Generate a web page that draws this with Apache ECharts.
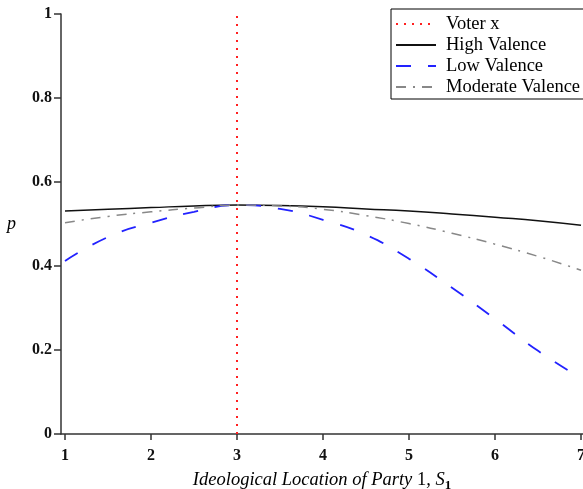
<!DOCTYPE html>
<html>
<head>
<meta charset="utf-8">
<script src="https://cdn.jsdelivr.net/npm/echarts@6/dist/echarts.min.js"></script>
<style>
  html, body { margin: 0; padding: 0; background: #fff; }
  #chart { width: 583px; height: 489px; }
</style>
</head>
<body>
<div id="chart"></div>
<script>
// party location S1
const positions = [1, 1.5, 2, 2.5, 3, 3.5, 4, 4.5, 5, 5.5, 6, 6.5, 7]
// vote probability p
const highValence = [0.531, 0.535, 0.539, 0.543, 0.545, 0.544, 0.541, 0.536, 0.531, 0.524, 0.516, 0.508, 0.497]
const lowValence = [0.412, 0.469, 0.503, 0.529, 0.545, 0.536, 0.510, 0.474, 0.417, 0.348, 0.274, 0.198, 0.133]
const moderateValence = [0.503, 0.518, 0.529, 0.538, 0.545, 0.543, 0.535, 0.520, 0.501, 0.478, 0.452, 0.423, 0.390]
const voterX = 3
const xTicks = [1, 2, 3, 4, 5, 6, 7]

const pairs = (ys) => positions.map((x, i) => [x, ys[i]])

const serif = '"Liberation Serif", "DejaVu Serif", serif'

const chart = echarts.init(document.getElementById('chart'))
const option = {
  animation: false,
  grid: { left: 61, right: 0, top: 14, bottom: 55, outerBoundsMode: 'none' },
  legend: {
    orient: 'vertical',
    left: 391,
    top: 9,
    backgroundColor: '#fff',
    borderColor: '#000',
    borderWidth: 1,
    borderRadius: 0,
    padding: [5, 10, 2, 4],
    itemGap: 1,
    itemWidth: 40,
    itemHeight: 17,
    itemStyle: { opacity: 0 },
    textStyle: { fontFamily: serif, fontSize: 18.5, lineHeight: 20, color: '#000', padding: [0, 0, 0, 5] },
    data: ['Voter x', 'High Valence', 'Low Valence', 'Moderate Valence']
  },
  xAxis: {
    type: 'value',
    min: 0.9535,
    max: 7.023,
    name: '{i|Ideological Location of Party }{n|1}{i|, }{i|S}{s|1}',
    nameLocation: 'middle',
    nameGap: 34,
    nameTextStyle: {
      rich: {
        i: { fontFamily: serif, fontStyle: 'italic', fontSize: 18.5, color: '#000' },
        n: { fontFamily: serif, fontSize: 18.5, color: '#000' },
        s: { fontFamily: serif, fontSize: 13, color: '#000', fontWeight: 'bold', padding: [11, 0, 0, 0] }
      }
    },
    splitLine: { show: false },
    axisLine: { lineStyle: { color: '#333', width: 1.5 } },
    axisTick: { customValues: xTicks, length: 6, lineStyle: { color: '#333', width: 1.5 } },
    axisLabel: {
      customValues: xTicks,
      fontFamily: serif, fontSize: 16, fontWeight: 'bold', color: '#111', margin: 14
    }
  },
  yAxis: {
    type: 'value',
    min: 0,
    max: 1,
    interval: 0.2,
    name: 'p',
    nameLocation: 'middle',
    nameRotate: 0,
    nameGap: 45,
    nameTextStyle: { fontFamily: serif, fontStyle: 'italic', fontSize: 18, color: '#000' },
    splitLine: { show: false },
    axisLine: { show: true, lineStyle: { color: '#333', width: 1.5 } },
    axisTick: { show: true, length: 7, lineStyle: { color: '#333', width: 1.5 } },
    axisLabel: { fontFamily: serif, fontSize: 16, fontWeight: 'bold', color: '#111', margin: 9 }
  },
  series: [
    {
      name: 'Voter x',
      type: 'line',
      symbol: 'none',
      data: [[voterX, 0], [voterX, 1]],
      lineStyle: { color: '#ff2020', width: 2, type: [2, 6] },
      itemStyle: { color: '#ff2020' }
    },
    {
      name: 'High Valence',
      type: 'line',
      symbol: 'none',
      smooth: true,
      data: pairs(highValence),
      lineStyle: { color: '#111', width: 1.5 },
      itemStyle: { color: '#111' }
    },
    {
      name: 'Low Valence',
      type: 'line',
      symbol: 'none',
      smooth: true,
      data: pairs(lowValence),
      lineStyle: { color: '#2222ff', width: 1.8, type: [15, 17] },
      itemStyle: { color: '#2222ff' }
    },
    {
      name: 'Moderate Valence',
      type: 'line',
      symbol: 'none',
      smooth: true,
      data: pairs(moderateValence),
      lineStyle: { color: '#888', width: 1.5, type: [10, 7, 2, 7] },
      itemStyle: { color: '#888' }
    }
  ]
}
chart.setOption(option)
</script>
</body>
</html>
